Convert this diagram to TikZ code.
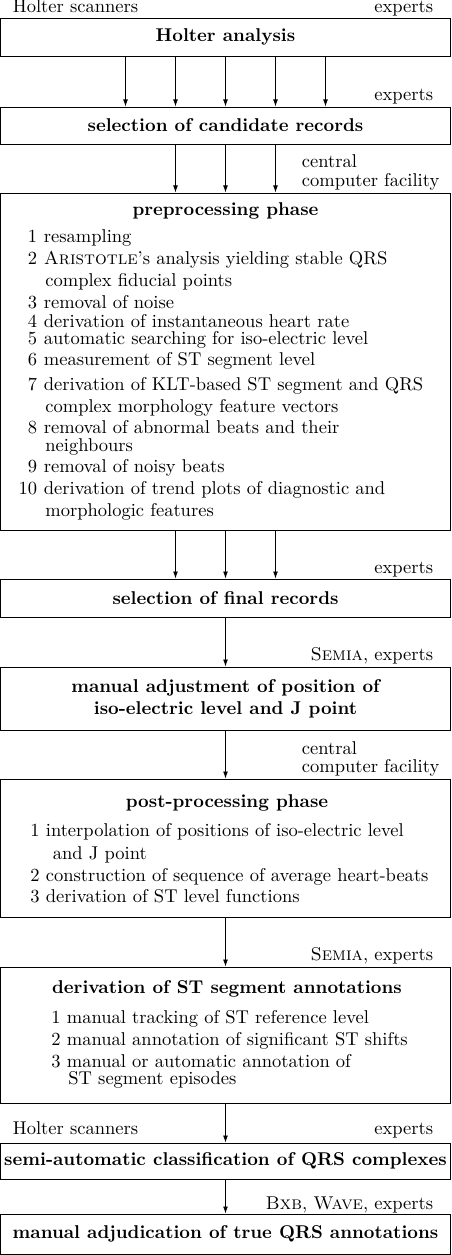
\documentclass[tikz,border=0pt]{standalone}
\usetikzlibrary{arrows.meta,calc}
\begin{document}
\begin{tikzpicture}[x=0.54pt,y=-0.54pt,
		box/.style={draw, line width=0.5pt, inner sep=0pt, minimum width=242.5pt},
		head/.style={font=\bfseries, inner sep=0pt, anchor=base},
		who/.style={inner sep=0pt, anchor=base east},
		whol/.style={inner sep=0pt, anchor=base west},
		num/.style={inner sep=0pt, anchor=base east},
		txt/.style={inner sep=0pt, anchor=base west},
		arr/.style={-{Latex[length=3.8pt,width=2.6pt]}, line width=0.4pt}]
	\useasboundingbox (0,0) rectangle (451,1255);
	
	% boxes
	\node[box, font=\bfseries, minimum height=20.5pt] (ha) at (225.5,37) {Holter analysis};
	\node[box, font=\bfseries, minimum height=20pt] (cr) at (225.5,125.5) {selection of candidate records};
	\node[box, minimum height=182pt] (pre) at (225.5,361.5) {};
	\node[box, font=\bfseries, minimum height=20.5pt] (fr) at (225.5,598) {selection of final records};
	\node[box, font=\bfseries, align=center, minimum height=34pt] (ma) at (225.5,698.5) {manual adjustment of position of\\iso-electric level and J point};
	\node[box, minimum height=74.5pt] (post) at (225.5,848) {};
	\node[box, minimum height=73.4pt] (st) at (225.5,1035) {};
	\node[box, font=\bfseries, minimum height=19.4pt] (qrs) at (225.5,1161) {semi-automatic classification of QRS complexes};
	\node[box, font=\bfseries, minimum height=21.6pt] (adj) at (225.5,1234) {manual adjudication of true QRS annotations};
	
	% who does what
	\node[whol] (hs1) at (12.5,12.5) {Holter scanners};
	\node[who] (ex1) at (433.5,12.5) {experts};
	\node[who] (ex2) at (433.5,100) {experts};
	\node[whol] (cf1) at (301.5,167.5) {central};
	\node[whol] (cf2) at (301.5,186.5) {computer facility};
	\node[who] (ex3) at (433.5,573.5) {experts};
	\node[who] (se1) at (433.5,660.5) {\textsc{Semia}, experts};
	\node[whol] (cf3) at (301.5,754.5) {central};
	\node[whol] (cf4) at (301.5,772.5) {computer facility};
	\node[who] (se2) at (433.5,960.5) {\textsc{Semia}, experts};
	\node[whol] (hs2) at (12.5,1134.5) {Holter scanners};
	\node[who] (ex4) at (433.5,1134.5) {experts};
	\node[who] (bw) at (433.5,1209.5) {\textsc{Bxb}, \textsc{Wave}, experts};
	
	% preprocessing phase
	\node[head] (pret) at (225.5,215.5) {preprocessing phase};
	\node[num] (pn1) at (37.5,242) {1};
	\node[txt] (pt1) at (43.5,242) {resampling};
	\node[num] (pn2) at (37.5,264) {2};
	\node[txt] (pt2) at (43.5,264) {\textsc{Aristotle}'s analysis yielding stable QRS};
	\node[txt] (pt2b) at (45,286) {complex fiducial points};
	\node[num] (pn3) at (37.5,308) {3};
	\node[txt] (pt3) at (43.5,308) {removal of noise};
	\node[num] (pn4) at (37.5,327) {4};
	\node[txt] (pt4) at (43.5,327) {derivation of instantaneous heart rate};
	\node[num] (pn5) at (37.5,344) {5};
	\node[txt] (pt5) at (43.5,344) {automatic searching for iso-electric level};
	\node[num] (pn6) at (37.5,365) {6};
	\node[txt] (pt6) at (43.5,365) {measurement of ST segment level};
	\node[num] (pn7) at (37.5,390) {7};
	\node[txt] (pt7) at (43.5,390) {derivation of KLT-based ST segment and QRS};
	\node[txt] (pt7b) at (45,412) {complex morphology feature vectors};
	\node[num] (pn8) at (37.5,433) {8};
	\node[txt] (pt8) at (43.5,433) {removal of abnormal beats and their};
	\node[txt] (pt8b) at (45,451) {neighbours};
	\node[num] (pn9) at (37.5,472) {9};
	\node[txt] (pt9) at (43.5,472) {removal of noisy beats};
	\node[num] (pn10) at (37.5,494) {10};
	\node[txt] (pt10) at (43.5,494) {derivation of trend plots of diagnostic and};
	\node[txt] (pt10b) at (45,516) {morphologic features};
	
	% post-processing phase
	\node[head] (postt) at (227,807.5) {post-processing phase};
	\node[num] (qn1) at (40,836) {1};
	\node[txt] (qt1) at (45.5,836) {interpolation of positions of iso-electric level};
	\node[txt] (qt1b) at (52.5,859) {and J point};
	\node[num] (qn2) at (40,881) {2};
	\node[txt] (qt2) at (45.5,881) {construction of sequence of average heart-beats};
	\node[num] (qn3) at (40,902) {3};
	\node[txt] (qt3) at (45.5,902) {derivation of ST level functions};
	
	% ST segment annotations
	\node[head] (stt) at (227,993.5) {derivation of ST segment annotations};
	\node[num] (sn1) at (61,1023) {1};
	\node[txt] (st1) at (66.5,1023) {manual tracking of ST reference level};
	\node[num] (sn2) at (61,1045) {2};
	\node[txt] (st2) at (66.5,1045) {manual annotation of significant ST shifts};
	\node[num] (sn3) at (61,1067) {3};
	\node[txt] (st3) at (66.5,1067) {manual or automatic annotation of};
	\node[txt] (st3b) at (68,1084) {ST segment episodes};
	
	% arrows
	\foreach \d in {-100,-50,0,50,100}
		\draw[arr] ($(ha.south)+(\d,0)$) -- ($(cr.north)+(\d,0)$);
	\foreach \d in {-50,0,50}
		\draw[arr] ($(cr.south)+(\d,0)$) -- ($(pre.north)+(\d,0)$);
	\foreach \d in {-50,0,50}
		\draw[arr] ($(pre.south)+(\d,0)$) -- ($(fr.north)+(\d,0)$);
	\draw 
	(fr) edge[arr] (ma) 
	(ma) edge[arr] (post)
	(post) edge[arr] (st)
	(st) edge[arr] (qrs)
	(qrs) edge[arr] (adj)
	;
\end{tikzpicture}
\end{document}
